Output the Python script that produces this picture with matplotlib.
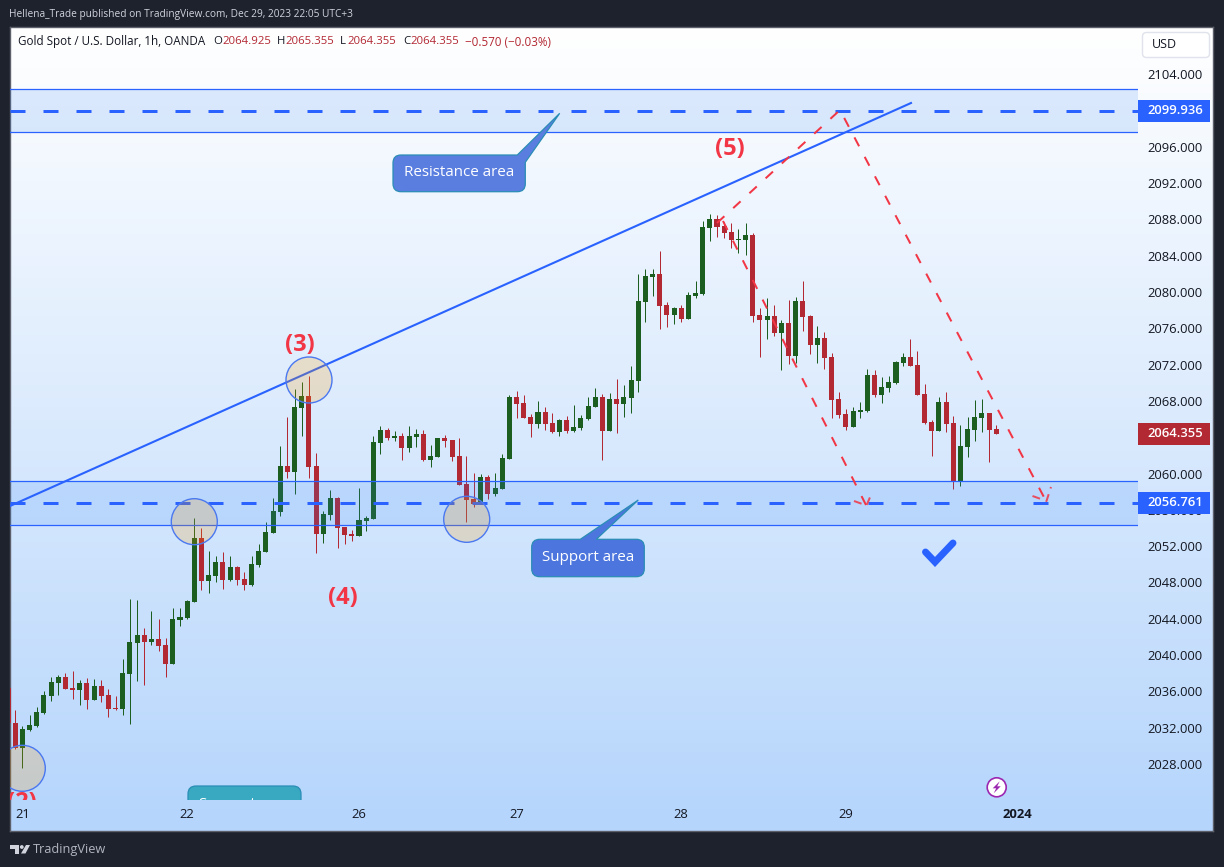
import numpy as np
import matplotlib
matplotlib.use("Agg")
import matplotlib.pyplot as plt
from matplotlib.colors import LinearSegmentedColormap
from matplotlib.patches import Circle, PathPatch, Polygon, Rectangle, FancyBboxPatch
from matplotlib.path import Path
from matplotlib.transforms import Affine2D

plt.rcParams['font.family'] = ['Open Sans', 'DejaVu Sans']

opens = [2036.34, 2032.52, 2029.80, 2031.75, 2032.19, 2033.62, 2035.49, 2036.92, 2037.58, 2036.37,
         2036.15, 2036.92, 2035.05, 2036.59, 2035.60, 2034.17, 2034.06, 2037.91, 2041.33, 2042.21,
         2041.44, 2041.77, 2041.11, 2039.02, 2043.86, 2044.08, 2045.84, 2052.89, 2048.16, 2048.71,
         2050.25, 2048.27, 2049.70, 2048.38, 2047.72, 2049.92, 2051.35, 2053.44, 2055.76, 2060.83,
         2060.17, 2067.21, 2068.54, 2060.83, 2053.34, 2055.43, 2057.30, 2054.11, 2053.34, 2053.12,
         2054.77, 2054.99, 2063.36, 2064.79, 2063.91, 2064.13, 2062.81, 2064.02, 2064.35, 2061.49,
         2061.82, 2063.91, 2063.69, 2061.93, 2058.84, 2057.19, 2056.64, 2059.61, 2057.74, 2058.29,
         2061.60, 2068.43, 2067.76, 2066.22, 2065.45, 2066.77, 2065.56, 2064.57, 2065.89, 2064.68,
         2065.01, 2066.00, 2067.32, 2068.42, 2064.68, 2068.20, 2067.65, 2068.31, 2070.19, 2078.89,
         2081.64, 2081.97, 2078.56, 2077.45, 2078.23, 2077.01, 2079.55, 2079.77, 2087.04, 2088.03,
         2087.26, 2086.60, 2085.71, 2085.71, 2086.27, 2077.45, 2076.90, 2077.34, 2075.47, 2076.57,
         2072.94, 2079.00, 2077.34, 2074.15, 2074.92, 2072.83, 2068.20, 2066.55, 2065.12, 2066.77,
         2066.88, 2070.85, 2068.64, 2069.41, 2069.97, 2072.17, 2072.83, 2071.95, 2068.75, 2065.67,
         2064.68, 2067.87, 2065.56, 2059.17, 2062.92, 2064.79, 2066.11, 2066.66, 2064.925]
closes = [2032.48, 2029.80, 2031.86, 2032.30, 2033.73, 2035.60, 2037.03, 2037.58, 2036.26, 2036.15,
          2036.92, 2035.05, 2036.59, 2035.49, 2034.06, 2034.02, 2038.02, 2041.44, 2042.21, 2041.44,
          2041.77, 2041.00, 2039.02, 2043.97, 2044.19, 2045.95, 2052.89, 2048.16, 2048.82, 2050.25,
          2048.27, 2049.70, 2048.27, 2047.72, 2050.03, 2051.46, 2053.55, 2055.87, 2060.83, 2060.17,
          2067.32, 2068.54, 2060.72, 2053.34, 2055.54, 2057.30, 2054.00, 2053.23, 2053.12, 2054.88,
          2055.10, 2063.47, 2064.79, 2063.91, 2064.13, 2062.81, 2064.13, 2064.35, 2061.49, 2061.93,
          2063.91, 2063.58, 2061.82, 2058.73, 2057.08, 2056.64, 2059.61, 2057.74, 2058.40, 2061.71,
          2068.43, 2067.65, 2066.11, 2065.45, 2066.77, 2065.45, 2064.57, 2065.89, 2064.68, 2065.12,
          2066.11, 2067.43, 2068.42, 2064.68, 2068.20, 2067.65, 2068.42, 2070.30, 2079.00, 2081.75,
          2081.97, 2078.45, 2077.45, 2078.23, 2077.01, 2079.66, 2079.88, 2087.15, 2088.03, 2087.15,
          2086.49, 2085.71, 2085.82, 2086.27, 2077.34, 2076.90, 2077.34, 2075.47, 2076.57, 2072.94,
          2079.00, 2077.23, 2074.15, 2074.92, 2072.72, 2068.09, 2066.44, 2065.12, 2066.88, 2066.99,
          2070.85, 2068.64, 2069.52, 2070.08, 2072.28, 2072.83, 2071.84, 2068.64, 2065.56, 2064.68,
          2067.87, 2065.45, 2059.17, 2063.03, 2064.90, 2066.22, 2066.66, 2064.79, 2064.355]
highs = [2036.34, 2033.95, 2032.19, 2033.40, 2034.28, 2036.04, 2037.58, 2037.80, 2038.02, 2038.24,
         2037.25, 2037.47, 2037.36, 2037.25, 2036.26, 2035.49, 2039.57, 2046.17, 2046.06, 2042.98,
         2044.85, 2043.97, 2041.88, 2045.18, 2045.18, 2046.06, 2055.09, 2053.99, 2051.46, 2050.91,
         2051.35, 2050.91, 2049.81, 2049.15, 2050.91, 2052.23, 2054.65, 2057.30, 2063.03, 2066.22,
         2069.31, 2070.08, 2070.74, 2062.26, 2055.87, 2058.18, 2057.41, 2054.11, 2053.78, 2058.40,
         2055.32, 2064.13, 2065.23, 2065.01, 2064.68, 2064.46, 2065.23, 2064.90, 2064.79, 2063.14,
         2063.91, 2064.24, 2063.69, 2063.91, 2061.93, 2060.06, 2059.94, 2059.83, 2060.06, 2062.15,
         2068.65, 2069.09, 2068.65, 2066.55, 2067.98, 2067.32, 2066.66, 2066.00, 2066.33, 2067.54,
         2066.44, 2068.42, 2069.42, 2068.75, 2068.86, 2070.41, 2069.75, 2071.84, 2081.97, 2082.52,
         2082.52, 2084.50, 2078.89, 2078.34, 2078.56, 2079.99, 2081.20, 2087.81, 2088.58, 2088.47,
         2087.70, 2087.59, 2086.93, 2087.59, 2086.49, 2078.23, 2079.33, 2078.56, 2076.90, 2079.11,
         2079.44, 2081.20, 2077.45, 2076.24, 2075.58, 2073.27, 2068.97, 2067.10, 2067.32, 2067.87,
         2071.51, 2071.40, 2070.63, 2070.74, 2072.39, 2073.27, 2074.81, 2073.49, 2069.85, 2065.89,
         2068.42, 2068.97, 2066.33, 2065.34, 2066.22, 2068.09, 2068.20, 2066.66, 2065.355]
lows = [2032.48, 2029.69, 2027.56, 2031.67, 2032.08, 2033.51, 2034.94, 2035.60, 2036.26, 2035.16,
        2034.50, 2034.06, 2035.05, 2034.83, 2033.18, 2033.95, 2033.40, 2032.41, 2037.14, 2036.70,
        2041.11, 2040.45, 2037.58, 2039.02, 2043.20, 2043.97, 2045.84, 2047.17, 2046.84, 2048.05,
        2047.28, 2048.16, 2047.72, 2047.17, 2047.61, 2049.70, 2051.35, 2053.44, 2055.32, 2059.50,
        2057.74, 2064.13, 2059.50, 2051.24, 2052.35, 2054.88, 2051.80, 2052.24, 2052.57, 2053.12,
        2053.67, 2054.99, 2062.15, 2063.69, 2063.58, 2061.49, 2062.37, 2062.92, 2061.38, 2060.72,
        2061.82, 2062.92, 2061.38, 2058.73, 2054.66, 2056.31, 2056.64, 2057.19, 2057.52, 2058.29,
        2061.60, 2066.11, 2066.11, 2064.02, 2065.01, 2064.79, 2064.46, 2064.13, 2064.46, 2064.57,
        2064.79, 2065.89, 2067.32, 2061.49, 2064.68, 2064.46, 2066.22, 2066.66, 2068.97, 2076.68,
        2079.55, 2075.91, 2076.13, 2076.46, 2076.68, 2077.01, 2079.33, 2079.66, 2085.60, 2086.05,
        2085.93, 2084.83, 2084.28, 2084.06, 2076.68, 2072.83, 2074.81, 2075.14, 2071.40, 2072.06,
        2072.17, 2075.69, 2073.16, 2072.17, 2071.51, 2066.11, 2066.11, 2064.79, 2065.12, 2066.11,
        2066.77, 2068.42, 2067.76, 2068.97, 2069.85, 2071.84, 2071.84, 2068.64, 2065.45, 2061.93,
        2064.68, 2064.57, 2058.29, 2058.62, 2061.82, 2063.58, 2064.57, 2061.26, 2064.355]

price_ticks = [2028, 2032, 2036, 2040, 2044, 2048, 2052, 2056, 2060, 2068, 2072, 2076, 2080,
               2084, 2088, 2092, 2096, 2104]
date_ticks = [1, 24, 48, 70, 93, 116, 140]
date_labels = ['21', '22', '26', '27', '28', '29', '2024']

resistance_zone = (2097.61, 2102.35)
support_zone = (2054.32, 2059.17)
resistance_level = 2099.936
support_level = 2056.761
last_close = 2064.355

W, H = 1224, 867
BLUE = '#2962ff'
RED = '#f23645'
CANDLE_UP = '#1b5e20'
CANDLE_DOWN = '#b22833'
TEXT = '#131722'

fig = plt.figure(figsize=(W / 100, H / 100), dpi=100, facecolor='#1e222d')

# pane background
bg = fig.add_axes([10 / W, (H - 831) / H, 1203 / W, 804 / H])
cmap = LinearSegmentedColormap.from_list('pane', ['#ffffff', '#b5d5fc'])
bg.imshow(np.linspace(0, 1, 256).reshape(-1, 1), aspect='auto', cmap=cmap)
bg.set_xticks([])
bg.set_yticks([])
for s in bg.spines.values():
    s.set_color('#5d606b')
    s.set_linewidth(1)

ax = fig.add_axes([10 / W, (H - 800) / H, 1128 / W, 773 / H], facecolor='none')
ax.set_xlim(-0.744, 156.8)
ax.set_ylim(2024.04, 2109.18)
ax.set_autoscale_on(False)
for s in ax.spines.values():
    s.set_visible(False)

# everything drawn on the chart by hand is placed in picture pixels
px = Affine2D().scale(1, -1).translate(0, H)

# candles
x = np.arange(len(opens)) - 1
o, c, hi, lo = map(np.array, (opens, closes, highs, lows))
colors = [CANDLE_UP if b >= a else CANDLE_DOWN for a, b in zip(o, c)]
wicks = ax.vlines(x, lo, hi, colors=colors, lw=0.72, zorder=2)
wicks.set_snap(True)
ax.bar(x, np.abs(c - o), bottom=np.minimum(o, c), width=0.7, color=colors, lw=0, zorder=2)

# zones
for low, high in (resistance_zone, support_zone):
    ax.axhspan(low, high, facecolor='#2b81f7', alpha=0.15, lw=0, zorder=3)
    ax.axhline(low, color=BLUE, lw=0.9, zorder=3)
    ax.axhline(high, color=BLUE, lw=0.9, zorder=3)
for level in (resistance_level, support_level):
    ax.axhline(level, color=BLUE, lw=2.16, ls=(0, (5, 6)), zorder=4)

# trend line and projected paths
ax.plot([10, 911], [506, 103], color=BLUE, lw=1.5, transform=px, zorder=5)
dash_red = dict(color=RED, lw=1.44, ls=(0, (5, 6)), transform=px, zorder=5)
ax.plot([717, 840, 1046], [223, 110, 501], **dash_red)
ax.plot([723, 866], [221, 505], **dash_red)
ax.plot([854, 866.5, 872], [501, 505.5, 492.5], color=RED, lw=1.44, ls=(0, (4, 3)), alpha=0.85,
        transform=px, zorder=5)
ax.plot([1032.5, 1046.5, 1051], [496, 501, 487], color=RED, lw=1.44, ls=(0, (4, 3)), alpha=0.85,
        transform=px, zorder=5)

# circles on the touches
for cx, cy in [(309, 380), (194.3, 521.7), (466.7, 519.3), (22.3, 768.3)]:
    ax.add_patch(Circle((cx, cy), 23, transform=px, facecolor=(1.0, 0.6, 0.0, 0.2),
                        edgecolor='#4a78f0', lw=1.0, zorder=6))


def callout(x0, y0, x1, y1, pointer, fill, round_corner=True, r=8):
    # rounded box with a pointer leaving the top edge
    verts = [(x0 + r, y0)] + pointer
    codes = [Path.MOVETO] + [Path.LINETO] * len(pointer)
    if round_corner:
        verts += [(x1 - r, y0), (x1, y0), (x1, y0 + r)]
        codes += [Path.LINETO, Path.CURVE3, Path.CURVE3]
    verts += [(x1, y1 - r), (x1, y1), (x1 - r, y1), (x0 + r, y1), (x0, y1), (x0, y1 - r),
              (x0, y0 + r), (x0, y0), (x0 + r, y0)]
    codes += [Path.LINETO, Path.CURVE3, Path.CURVE3, Path.LINETO, Path.CURVE3, Path.CURVE3,
              Path.LINETO, Path.CURVE3, Path.CURVE3]
    ax.add_patch(PathPatch(Path(verts, codes), transform=px, facecolor=fill,
                           edgecolor='#2a8db5', lw=0.9, zorder=7))


callout(393, 155, 525.3, 191.7, [(517.3, 155), (559.7, 113.3), (525.3, 162.3)], '#5a7de0',
        round_corner=False)
ax.text(459, 173, 'Resistance area', transform=px, color='white', fontsize=10.9, ha='center',
        va='center', zorder=8)
callout(531.7, 539.3, 644.3, 576.7, [(580.3, 539.3), (638.3, 500), (596.3, 539.3)], '#4c76de')
ax.text(588, 557.5, 'Support area', transform=px, color='white', fontsize=10.9, ha='center',
        va='center', zorder=8)
callout(188, 786, 301, 824, [], '#38a9c1')
ax.text(245, 804, 'Support area', transform=px, color='white', fontsize=10.9, ha='center',
        va='center', zorder=8, clip_on=True)

# wave labels
for label, lx, ly in [('(3)', 300, 345), ('(4)', 343, 598), ('(5)', 730, 149), ('(2)', 22, 803)]:
    ax.text(lx, ly, label, transform=px, color=RED, fontsize=17, fontweight='bold', ha='center',
            va='center', zorder=6, clip_on=True)

# check mark
ax.plot([925.5, 935, 953], [552, 562, 543], color=BLUE, lw=5, solid_capstyle='round',
        solid_joinstyle='miter', transform=px, zorder=6)

# news icon
ax.add_patch(Circle((996.7, 787.3), 9.5, transform=px, facecolor='white', edgecolor='#9c27b0',
                    lw=1.2, zorder=6))
bolt = np.array([(3, -6), (-4, 1), (-0.5, 1), (-3, 6), (4, -1), (0.5, -1)]) + (996.7, 787.3)
ax.add_patch(Polygon(bolt, transform=px, facecolor='#9c27b0', lw=0, zorder=7))

# axes
ax.yaxis.tick_right()
ax.set_yticks(price_ticks, [f'{p:.3f}' for p in price_ticks])
ax.set_xticks(date_ticks, date_labels)
ax.tick_params(axis='y', length=0, pad=6.5, labelsize=9.4, labelcolor=TEXT)
ax.tick_params(axis='x', length=0, pad=5.8, labelsize=9.4, labelcolor=TEXT)
ax.get_xticklabels()[-1].set_fontweight('bold')

# last value tags on the price scale
trans = ax.get_yaxis_transform()
for value, tag_color in [(resistance_level, BLUE), (support_level, BLUE), (last_close, CANDLE_DOWN)]:
    ax.add_patch(Rectangle((1.0, value - 1.21), 72 / 1128, 2.42, transform=trans, facecolor=tag_color,
                           lw=0, clip_on=False, zorder=9))
    ax.text(1 + 9 / 1128, value, f'{value:.3f}', transform=trans, color='white', fontsize=9.4,
            fontweight='semibold', ha='left', va='center', zorder=10)

# USD button
ax.add_patch(FancyBboxPatch((1145, 35), 62, 20, boxstyle='round,pad=2.5,rounding_size=4', transform=px,
                            facecolor='white', edgecolor='#e0e3eb', lw=1, clip_on=False, zorder=9))
ax.text(1152, 44.5, 'USD', transform=px, color=TEXT, fontsize=9, ha='left', va='center', zorder=10)

# header, legend line, footer
ax.text(9, 14, 'Hellena_Trade published on TradingView.com, Dec 29, 2023 22:05 UTC+3', transform=px,
        color='#d1d4dc', fontsize=7.3, ha='left', va='center')
ax.text(18, 42, 'Gold Spot / U.S. Dollar, 1h, OANDA', transform=px, color=TEXT, fontsize=8.4,
        ha='left', va='center')
legend_parts = [('O', '2064.925', 213, 222), ('H', '2065.355', 277, 285),
                ('L', '2064.355', 340, 347), ('C', '2064.355', 403, 410)]
for key, val, lx, vx in legend_parts:
    ax.text(lx, 42, key, transform=px, color=TEXT, fontsize=8.2, ha='left', va='center')
    ax.text(vx, 42, val, transform=px, color=CANDLE_DOWN, fontsize=8.2, ha='left', va='center')
ax.text(465, 42, '\u22120.570 (\u22120.03%)', transform=px, color=CANDLE_DOWN, fontsize=8.4, ha='left',
        va='center')

logo = '#d1d4dc'
for pts in ([(10, 845), (19, 845), (19, 853.5), (14.5, 853.5), (14.5, 849), (10, 849)],
            [(26, 845), (30, 845), (25.5, 853.5), (21, 853.5)]):
    ax.add_patch(Polygon(pts, transform=px, facecolor=logo, lw=0, clip_on=False))
ax.add_patch(Circle((21.8, 847), 1.9, transform=px, facecolor=logo, lw=0, clip_on=False))
ax.text(33, 849.5, 'TradingView', transform=px, color='#b2b5be', fontsize=9.2, ha='left', va='center')

fig.savefig('out.png', dpi=100, facecolor=fig.get_facecolor())
